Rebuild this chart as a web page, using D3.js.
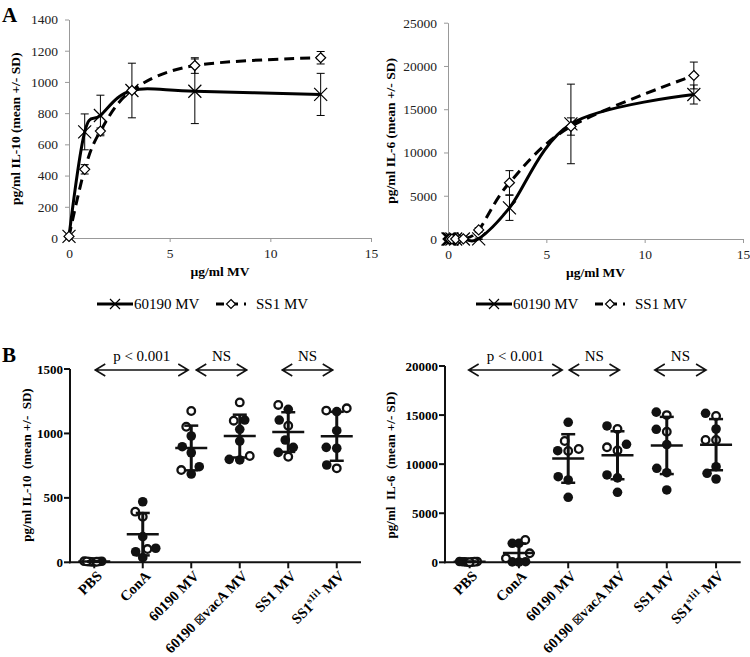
<!DOCTYPE html>
<html><head><meta charset="utf-8">
<script src="https://cdn.jsdelivr.net/npm/d3@7"></script>
<style>
body{margin:0;background:#fff}
svg{display:block}
text{font-family:"Liberation Serif","Times New Roman",serif;white-space:pre}
</style>
</head><body>
<svg id="c" width="750" height="657"></svg>
<script>
// ---------- Panel A data ----------
const doseIL10 = [0, 0.78, 1.56, 3.125, 6.25, 12.5];
const il10_60190 = [10, 680, 785, 945, 940, 920];
const il10_60190_sd = [5, 115, 130, 175, 207, 135];
const il10_SS1 = [10, 440, 685, 945, 1105, 1155];
const il10_SS1_sd = [5, 30, 20, 15, 50, 40];

const doseIL6 = [0, 0.05, 0.1, 0.2, 0.39, 0.78, 1.56, 3.125, 6.25, 12.5];
const il6_60190 = [0, 0, 0, 0, 0, 0, 20, 3600, 13300, 16700];
const il6_60190_sd = [60, 60, 60, 60, 60, 60, 80, 1450, 4600, 1100];
const il6_SS1 = [0, 0, 0, 0, 0, 20, 1050, 6500, 13000, 18900];
const il6_SS1_sd = [60, 60, 60, 60, 60, 60, 250, 1400, 1000, 1550];

const seriesNames = ["60190 MV", "SS1 MV"];

// ---------- Panel B data ----------
const categories = ["PBS", "ConA", "60190 MV", "60190 \u22A0vacA MV", "SS1 MV", "SS1^s1i1 MV"];
const il10Filled = [[3, 6, 2, 8], [470, 199, 109, 82, 36], [980, 897, 850, 742, 685],
  [1104, 1032, 941, 794, 799], [1187, 1104, 949, 892, 853], [1169, 1021, 885, 892, 755]];
const il10Open = [[5, 9, 4, 7], [354, 393, 103], [1174, 1052, 716],
  [1241, 1099, 825], [1221, 1060, 819], [1177, 1195, 729]];
const il6Filled = [[40, 80, 20, 60], [1936, 1936, 40, 60, 30], [14265, 11372, 8723, 8386, 6623],
  [13889, 12024, 8900, 8600, 7133], [15300, 13550, 12000, 9580, 9130, 7370], [15183, 13583, 9741, 9069, 8488]];
const il6Open = [[30, 70, 50, 10], [2272, 917, 400], [12360, 11545, 11340],
  [13583, 11718, 11400], [15000, 13300], [14908, 12462, 12462]];
const il10Ticks = [0, 500, 1000, 1500];
const il6Ticks = [0, 5000, 10000, 15000, 20000];

// ---------- drawing ----------
const svg = d3.select("#c");
svg.append("rect").attr("width", 750).attr("height", 657).attr("fill", "#fff");
const SERIF = "'Liberation Serif','Times New Roman',serif";

function xMark(g, cx, cy, s) {
  g.append("path").attr("d", `M${cx - s},${cy - s}L${cx + s},${cy + s}M${cx - s},${cy + s}L${cx + s},${cy - s}`)
    .attr("stroke", "#000").attr("stroke-width", 1.2).attr("fill", "none");
}
function diamond(g, cx, cy, s) {
  g.append("path").attr("d", `M${cx},${cy - s}L${cx + s},${cy}L${cx},${cy + s}L${cx - s},${cy}Z`)
    .attr("fill", "#fff").attr("stroke", "#000").attr("stroke-width", 1.2);
}

function doseResponse(o) {
  const g = svg.append("g");
  const x = d3.scaleLinear().domain([0, 15]).range([o.left, o.right]);
  const y = d3.scaleLinear().domain([0, o.yMax]).range([o.bottom, o.top]);
  const ya = g.append("g").attr("transform", `translate(${o.left},0)`)
    .call(d3.axisLeft(y).tickValues(d3.range(0, o.yMax + 1, o.yStep)).tickSize(4).tickSizeOuter(0).tickPadding(7).tickFormat(d3.format("d")));
  const xa = g.append("g").attr("transform", `translate(0,${o.bottom})`)
    .call(d3.axisBottom(x).tickValues([0, 5, 10, 15]).tickSize(4).tickSizeOuter(0).tickPadding(6).tickFormat(d3.format("d")));
  [ya, xa].forEach(a => {
    a.select(".domain").attr("stroke", "#999").attr("stroke-width", 1);
    a.selectAll(".tick line").attr("stroke", "#999");
    a.selectAll("text").attr("font-family", SERIF).attr("font-size", 13.5).attr("fill", "#222");
  });
  const line = d3.line().x(d => x(d[0])).y(d => y(d[1])).curve(d3.curveCardinal.tension(0));
  const s1 = o.dose.map((d, i) => [d, o.a[i], o.asd[i]]);
  const s2 = o.dose.map((d, i) => [d, o.b[i], o.bsd[i]]);
  g.append("path").attr("d", line(s1)).attr("fill", "none").attr("stroke", "#000").attr("stroke-width", 3);
  g.append("path").attr("d", line(s2)).attr("fill", "none").attr("stroke", "#000").attr("stroke-width", 3).attr("stroke-dasharray", "10,6");
  [s1, s2].forEach(s => s.forEach(d => {
    const px = x(d[0]), lo = y(d[1] - d[2]), hi = y(d[1] + d[2]);
    g.append("path").attr("d", `M${px},${lo}V${hi}M${px - 4},${lo}H${px + 4}M${px - 4},${hi}H${px + 4}`)
      .attr("stroke", "#000").attr("stroke-width", 1).attr("fill", "none");
  }));
  s1.forEach(d => xMark(g, x(d[0]), y(d[1]), 6.5));
  s2.forEach(d => diamond(g, x(d[0]), y(d[1]), 5));
  // titles
  g.append("text").attr("transform", `translate(${o.ytX},${(o.top + o.bottom) / 2}) rotate(-90)`)
    .attr("text-anchor", "middle").attr("dy", "0.35em").attr("font-weight", "bold").attr("font-size", 13.5).text(o.ytitle);
  g.append("text").attr("x", (o.left + o.right) / 2).attr("y", o.bottom + 38).attr("text-anchor", "middle")
    .attr("font-weight", "bold").attr("font-size", 13.5).text("\u00B5g/ml MV");
  // legend
  const ly = 304, lx = o.left + 28;
  g.append("line").attr("x1", lx).attr("x2", lx + 36).attr("y1", ly).attr("y2", ly).attr("stroke", "#000").attr("stroke-width", 3);
  xMark(g, lx + 18, ly, 5);
  g.append("text").attr("x", lx + 37).attr("y", ly).attr("dy", "0.35em").attr("font-size", 15).text(seriesNames[0]);
  g.append("line").attr("x1", lx + 119).attr("x2", lx + 149).attr("y1", ly).attr("y2", ly).attr("stroke", "#000").attr("stroke-width", 3).attr("stroke-dasharray", "8,6");
  diamond(g, lx + 134, ly, 4.5);
  g.append("text").attr("x", lx + 159).attr("y", ly).attr("dy", "0.35em").attr("font-size", 15).text(seriesNames[1]);
}

doseResponse({left: 69, right: 371, top: 19.5, bottom: 238, yMax: 1400, yStep: 200,
  dose: doseIL10, a: il10_60190, asd: il10_60190_sd, b: il10_SS1, bsd: il10_SS1_sd,
  ytX: 15, ytitle: "pg/ml IL-10 (mean +/- SD)"});
doseResponse({left: 448, right: 743, top: 22.7, bottom: 239, yMax: 25000, yStep: 5000,
  dose: doseIL6, a: il6_60190, asd: il6_60190_sd, b: il6_SS1, bsd: il6_SS1_sd,
  ytX: 390, ytitle: "pg/ml IL-6 (mean +/- SD)"});

function swarmOffsets(ys, minD, maxOff) {
  const order = d3.range(ys.length).sort((a, b) => ys[b] - ys[a]);
  const placed = [], off = new Array(ys.length).fill(0);
  for (const i of order) {
    let c = 0;
    for (let k = 0; k < 400; k++) {
      c = (k % 2 === 0 ? 1 : -1) * Math.ceil(k / 2) * 0.5;
      if (placed.every(p => Math.hypot(p.x - c, p.y - ys[i]) >= minD)) break;
    }
    off[i] = c; placed.push({x: c, y: ys[i]});
  }
  const m = d3.max(off, v => Math.abs(v));
  return m > maxOff ? off.map(v => v * maxOff / m) : off;
}

function scatterPanel(o) {
  const g = svg.append("g");
  const x = d3.scalePoint().domain(categories).range([o.left, o.right]).padding(0.5);
  const y = d3.scaleLinear().domain([0, o.yMax]).range([o.bottom, o.top]);
  // axes
  g.append("line").attr("x1", o.left).attr("x2", o.left).attr("y1", o.bottom + 1).attr("y2", y(o.yMax)).attr("stroke", "#111").attr("stroke-width", 2);
  g.append("line").attr("x1", o.left - 1).attr("x2", o.right).attr("y1", o.bottom).attr("y2", o.bottom).attr("stroke", "#111").attr("stroke-width", 2);
  o.ticks.forEach(t => {
    g.append("line").attr("x1", o.left - 6).attr("x2", o.left).attr("y1", y(t)).attr("y2", y(t)).attr("stroke", "#111").attr("stroke-width", 2);
    g.append("text").attr("x", o.left - 7).attr("y", y(t)).attr("dy", "0.35em").attr("text-anchor", "end")
      .attr("font-weight", "bold").attr("font-size", 13).text(t);
  });
  categories.forEach(c => {
    const cx = x(c);
    g.append("line").attr("x1", cx).attr("x2", cx).attr("y1", o.bottom).attr("y2", o.bottom + 6).attr("stroke", "#111").attr("stroke-width", 2);
    const t = g.append("text").attr("transform", `translate(${cx + 5},${o.bottom + 11}) rotate(-45)`)
      .attr("text-anchor", "end").attr("dy", "0.35em").attr("font-weight", "bold").attr("font-size", 14.5);
    const m = c.match(/^(.*)\^(\S+)(.*)$/);
    const box = c.match(/^(.*)(\u22A0)(.*)$/);
    if (m) {
      t.append("tspan").text(m[1]);
      t.append("tspan").attr("font-size", 10).attr("dy", "-0.6em").text(m[2]);
      t.append("tspan").attr("dy", "0.4em").text(m[3]);
    } else if (box) {
      t.append("tspan").text(box[1]);
      t.append("tspan").attr("font-size", 13).attr("font-weight", "normal").text(box[2]);
      t.append("tspan").text(box[3]);
    } else t.text(c);
  });
  // points
  categories.forEach((c, ci) => {
    const pts = o.filled[ci].map(v => ({v, f: true})).concat(o.open[ci].map(v => ({v, f: false})));
    const ys = pts.map(p => y(p.v));
    const offs = swarmOffsets(ys, 10.5, ci === 0 ? 10 : 13);
    pts.forEach((p, i) => {
      const cx = x(c) + offs[i];
      if (p.f) g.append("circle").attr("cx", cx).attr("cy", ys[i]).attr("r", 4.8).attr("fill", "#111");
      else g.append("circle").attr("cx", cx).attr("cy", ys[i]).attr("r", 3.8).attr("fill", "#fff").attr("stroke", "#111").attr("stroke-width", 2.3);
    });
    const vals = pts.map(p => p.v);
    const mean = d3.mean(vals), sd = d3.deviation(vals);
    const cx = x(c);
    g.append("line").attr("x1", cx - 16).attr("x2", cx + 16).attr("y1", y(mean)).attr("y2", y(mean)).attr("stroke", "#111").attr("stroke-width", 2.5);
    g.append("line").attr("x1", cx).attr("x2", cx).attr("y1", y(Math.max(0, mean - sd))).attr("y2", y(mean + sd)).attr("stroke", "#111").attr("stroke-width", 3);
    [mean - sd, mean + sd].forEach(v => {
      if (v < 0) return;
      g.append("line").attr("x1", cx - 7).attr("x2", cx + 7).attr("y1", y(v)).attr("y2", y(v)).attr("stroke", "#111").attr("stroke-width", 2.5);
    });
  });
  // y title
  g.append("text").attr("transform", `translate(${o.ytX},465) rotate(-90)`).attr("text-anchor", "middle").attr("dy", "0.35em")
    .attr("font-weight", "bold").attr("font-size", 13).text(o.ytitle);
  // comparison arrows
  const ay = 370;
  o.arrows.forEach(a => {
    const x1 = x(categories[a.from]) + a.d1, x2 = x(categories[a.to]) + a.d2;
    g.append("path").attr("d", `M${x1},${ay}H${x2}M${x1 + 10},${ay - 6}L${x1},${ay}L${x1 + 10},${ay + 6}M${x2 - 10},${ay - 6}L${x2},${ay}L${x2 - 10},${ay + 6}`)
      .attr("fill", "none").attr("stroke", "#111").attr("stroke-width", 1.6);
    g.append("text").attr("x", (x1 + x2) / 2).attr("y", 361).attr("text-anchor", "middle").attr("font-size", 15).text(a.label);
  });
}

scatterPanel({left: 70, right: 361, top: 369, bottom: 562.3, yMax: 1500, ticks: il10Ticks,
  filled: il10Filled, open: il10Open, ytX: 26, ytitle: "pg/ml IL-10  (mean +/-  SD)",
  arrows: [{from: 0, to: 2, d1: 1, d2: -3, label: "p < 0.001"}, {from: 2, to: 3, d1: 5, d2: 7, label: "NS"}, {from: 4, to: 5, d1: -6, d2: -4, label: "NS"}]});
scatterPanel({left: 445, right: 740.7, top: 366, bottom: 562.3, yMax: 20000, ticks: il6Ticks,
  filled: il6Filled, open: il6Open, ytX: 390, ytitle: "pg/ml  IL-6  (mean +/- SD)",
  arrows: [{from: 0, to: 2, d1: -1, d2: -6, label: "p < 0.001"}, {from: 2, to: 3, d1: 1, d2: 2, label: "NS"}, {from: 4, to: 5, d1: -12, d2: -10, label: "NS"}]});

// panel letters
svg.append("text").attr("x", 2).attr("y", 22).attr("font-weight", "bold").attr("font-size", 21).text("A");
svg.append("text").attr("x", 2).attr("y", 362).attr("font-weight", "bold").attr("font-size", 21).text("B");
</script>
</body></html>
